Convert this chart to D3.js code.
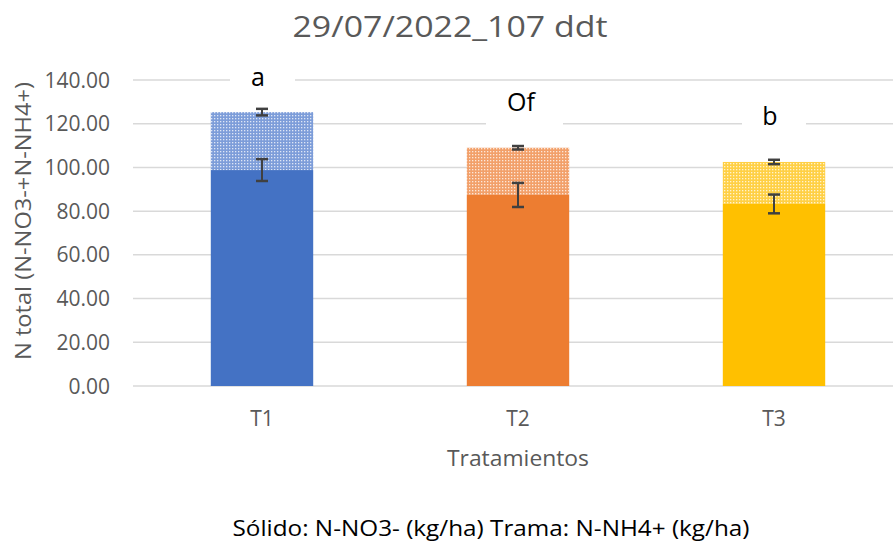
<!DOCTYPE html>
<html><head><meta charset="utf-8">
<script src="https://cdn.jsdelivr.net/npm/d3@7"></script>
<style>body{margin:0;background:#fff}svg{display:block}text{font-family:"Open Sans",sans-serif}</style>
</head><body>
<svg id="c" width="893" height="543"></svg>
<script>
const categories = ["T1","T2","T3"];
const no3 = [98.8, 87.4, 83.3];
const nh4 = [26.5, 21.6, 19.2];
const no3Err = [5.0, 5.5, 4.3];
const totalErr = [1.5, 0.8, 1.0];
const letters = ["a","Of","b"];
const yTicks = [0,20,40,60,80,100,120,140];
const solidColors = ["#4472C4","#ED7D31","#FFC000"];
const patBase = ["#7d9dd9","#f2a06a","#ffd045"];

const svg = d3.select("#c");
const x = d3.scaleBand().domain(categories).range([134,902]).paddingInner(0.6).paddingOuter(0.3);
const y = d3.scaleLinear().domain([0,140]).range([386,80]);

const defs = svg.append("defs");
categories.forEach((c,i)=>{
  const p = defs.append("pattern").attr("id","p"+i).attr("patternUnits","userSpaceOnUse")
    .attr("width",3).attr("height",3);
  p.append("rect").attr("width",3).attr("height",3).attr("fill",patBase[i]);
  p.append("rect").attr("x",1).attr("y",1).attr("width",1.3).attr("height",1.3).attr("fill","#ffffff").attr("opacity",0.75);
});

// gridlines
svg.append("g").selectAll("line").data(yTicks).join("line")
  .attr("x1",133).attr("x2",893).attr("y1",d=>y(d)).attr("y2",d=>y(d))
  .attr("stroke","#d9d9d9").attr("stroke-width",1.5);

// y tick labels
svg.append("g").selectAll("text").data(yTicks).join("text")
  .attr("x",110).attr("y",d=>y(d)).attr("dy","0.36em").attr("text-anchor","end")
  .attr("font-size",21).attr("fill","#595959").text(d=>d.toFixed(2));

// bars
const g = svg.append("g");
categories.forEach((c,i)=>{
  g.append("rect").attr("x",x(c)).attr("width",x.bandwidth())
    .attr("y",y(no3[i])).attr("height",y(0)-y(no3[i])).attr("fill",solidColors[i]);
  g.append("rect").attr("x",x(c)).attr("width",x.bandwidth())
    .attr("y",y(no3[i]+nh4[i])).attr("height",y(no3[i])-y(no3[i]+nh4[i])).attr("fill","url(#p"+i+")");
});

// error bars
function errBar(cx, v, e){
  const eg = g.append("g").attr("stroke","#404040");
  eg.append("line").attr("x1",cx).attr("x2",cx).attr("y1",y(v+e)).attr("y2",y(v-e)).attr("stroke-width",2);
  [v+e, v-e].forEach(t=>eg.append("line").attr("x1",cx-6).attr("x2",cx+6).attr("y1",y(t)).attr("y2",y(t)).attr("stroke-width",2.5));
}
categories.forEach((c,i)=>{
  const cx = x(c)+x.bandwidth()/2;
  errBar(cx, no3[i], no3Err[i]);
  errBar(cx, no3[i]+nh4[i], totalErr[i]);
});

// letter labels with white boxes
const boxes = [{x0:230,x1:295,y0:62,y1:100,dx:-4,ty:86},{x0:486,x1:563,y0:84,y1:128,dx:3,ty:111},{x0:742,x1:806,y0:100,y1:138,dx:-4,ty:125}];
categories.forEach((c,i)=>{
  const b = boxes[i];
  svg.append("rect").attr("x",b.x0).attr("y",b.y0).attr("width",b.x1-b.x0).attr("height",b.y1-b.y0).attr("fill","#fff");
  svg.append("text").attr("x",x(c)+x.bandwidth()/2 + b.dx).attr("y",b.ty)
    .attr("text-anchor","middle").attr("font-size",25).attr("fill","#000").text(letters[i]);
});

// x tick labels
svg.append("g").selectAll("text").data(categories).join("text")
  .attr("x",d=>x(d)+x.bandwidth()/2).attr("y",426).attr("text-anchor","middle")
  .attr("font-size",21).attr("fill","#595959").text(d=>d);

// axis titles
svg.append("text").attr("x",518).attr("y",466).attr("text-anchor","middle")
  .attr("font-size",21).attr("fill","#595959").attr("textLength",142).attr("lengthAdjust","spacingAndGlyphs").text("Tratamientos");
svg.append("text").attr("transform","translate(31,221) rotate(-90)").attr("text-anchor","middle")
  .attr("font-size",21).attr("fill","#595959").attr("textLength",278).attr("lengthAdjust","spacingAndGlyphs").text("N total (N-NO3-+N-NH4+)");

// title
svg.append("text").attr("x",450).attr("y",37).attr("text-anchor","middle")
  .attr("font-size",30).attr("fill","#595959").attr("textLength",315).attr("lengthAdjust","spacingAndGlyphs").text("29/07/2022_107 ddt");

// legend note
svg.append("text").attr("x",491).attr("y",536).attr("text-anchor","middle")
  .attr("font-size",21).attr("fill","#000").attr("textLength",517).attr("lengthAdjust","spacingAndGlyphs").text("Sólido: N-NO3- (kg/ha)  Trama: N-NH4+ (kg/ha)");
</script>
</body></html>
